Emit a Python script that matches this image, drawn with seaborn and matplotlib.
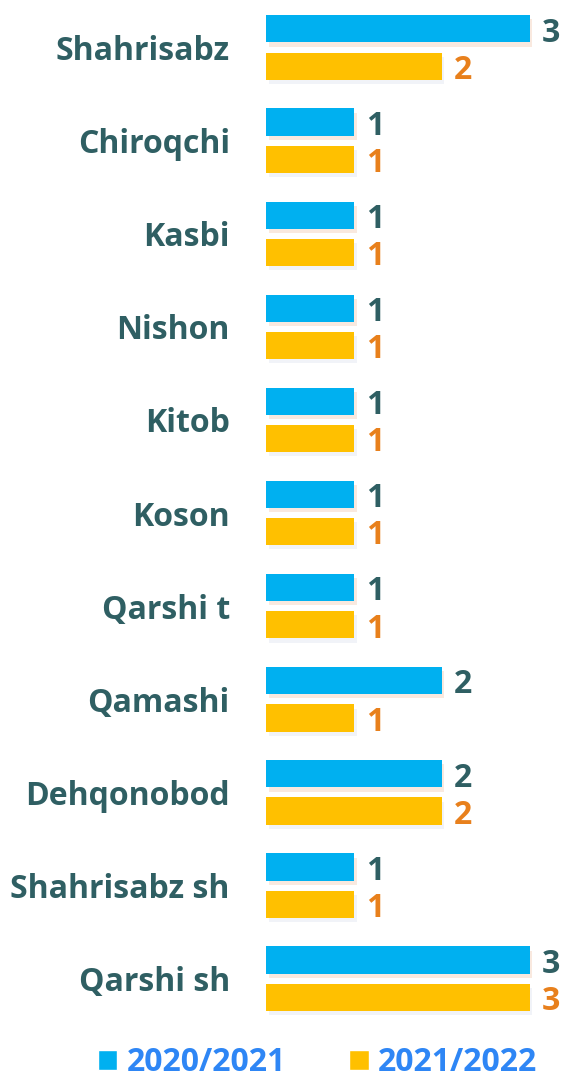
import matplotlib
matplotlib.use("Agg")
import matplotlib.pyplot as plt
import matplotlib.patheffects as pe
import pandas as pd
import seaborn as sns
from matplotlib.patches import Patch

districts = [
    "Shahrisabz", "Chiroqchi", "Kasbi", "Nishon", "Kitob", "Koson",
    "Qarshi t", "Qamashi", "Dehqonobod", "Shahrisabz sh", "Qarshi sh",
]
season_2020 = [3, 1, 1, 1, 1, 1, 1, 2, 2, 1, 3]
season_2021 = [2, 1, 1, 1, 1, 1, 1, 1, 2, 1, 3]
seasons = ["2020/2021", "2021/2022"]

BLUE = "#00B0F0"
YELLOW = "#FFC000"
LABEL_DARK = "#2F5F63"
LABEL_ORANGE = "#E8801C"
LEGEND_BLUE = "#2E86F5"

df = pd.DataFrame({
    "district": districts * 2,
    "count": season_2020 + season_2021,
    "season": [seasons[0]] * len(districts) + [seasons[1]] * len(districts),
})

sns.set_style("white")
plt.rcParams["font.family"] = ["Open Sans", "DejaVu Sans"]

fig = plt.figure(figsize=(5.67, 10.83), dpi=100)
ax = fig.add_axes([0.469, 0.049, 0.527, 0.951])

sns.barplot(
    data=df, y="district", x="count", hue="season", order=districts,
    hue_order=seasons, palette=[BLUE, YELLOW], saturation=1, orient="h",
    width=0.8, gap=0.27, legend=False, ax=ax,
)

shadow_cols = ["#f2c9b0", "#dde3ee"]
for container, scol, tcol in zip(ax.containers, shadow_cols, [LABEL_DARK, LABEL_ORANGE]):
    for bar in container:
        bar.set_edgecolor("none")
        bar.set_path_effects([
            pe.SimplePatchShadow(offset=(2, -3), shadow_rgbFace=scol, alpha=0.4),
            pe.Normal(),
        ])
    labels = ax.bar_label(container, padding=9, color=tcol, fontsize=23, fontweight="bold")
    # nudge labels a little below the bar centre, as in the original
    for t in labels:
        x, y = t.xyann
        t.xyann = (x, y - 3)

ax.set_xlim(0, 3.4)
ax.set_ylim(10.55, -0.51)
ax.set_xlabel("")
ax.set_ylabel("")
ax.set_xticks([])
ax.tick_params(axis="y", length=0, pad=26)
for lbl in ax.get_yticklabels():
    lbl.set_fontsize(23)
    lbl.set_fontweight("bold")
    lbl.set_color(LABEL_DARK)
sns.despine(ax=ax, left=True, bottom=True)

handles = [Patch(facecolor=BLUE), Patch(facecolor=YELLOW)]
leg = fig.legend(
    handles, seasons, loc="center", bbox_to_anchor=(0.56, 0.019), ncol=2,
    frameon=False, handlelength=0.6, handleheight=0.6, handletextpad=0.3,
    columnspacing=2.0, borderpad=0.1, prop={"size": 23, "weight": "bold"},
)
for t in leg.get_texts():
    t.set_color(LEGEND_BLUE)

fig.savefig("out.png", dpi=100)
